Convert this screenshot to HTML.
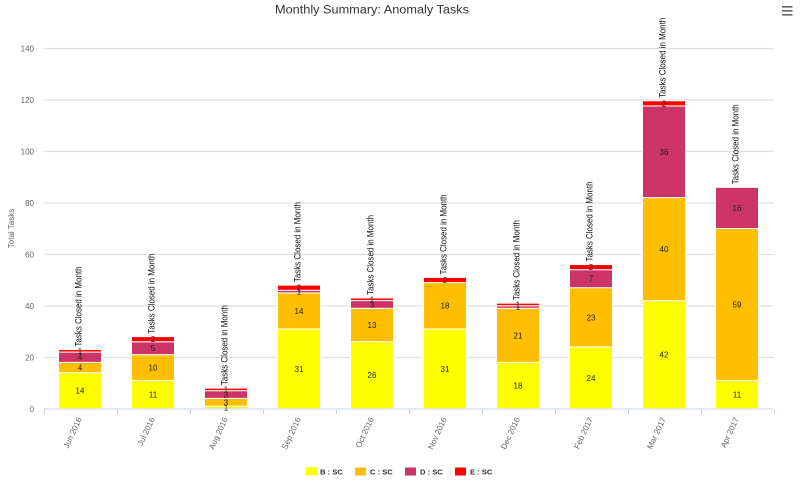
<!DOCTYPE html>
<html><head><meta charset="utf-8"><style>
html,body{margin:0;padding:0;background:#fff;}
svg{display:block;font-family:"Liberation Sans",Arial,sans-serif;}
</style></head><body>
<svg width="800" height="480" viewBox="0 0 800 480" xmlns="http://www.w3.org/2000/svg">
<rect width="800" height="480" fill="#fff"/>
<text x="275" y="13.5" font-size="11.5" fill="#333" textLength="194" lengthAdjust="spacingAndGlyphs">Monthly Summary: Anomaly Tasks</text>
<g fill="#666"><rect x="782" y="6" width="10.5" height="1.6"/><rect x="782" y="10" width="10.5" height="1.6"/><rect x="782" y="14" width="10.5" height="1.6"/></g>
<g stroke="#e0e0e0" stroke-width="1.2">
<line x1="44" x2="774" y1="48.5" y2="48.5"/><line x1="44" x2="774" y1="100" y2="100"/><line x1="44" x2="774" y1="151.5" y2="151.5"/><line x1="44" x2="774" y1="203" y2="203"/><line x1="44" x2="774" y1="254.5" y2="254.5"/><line x1="44" x2="774" y1="306" y2="306"/><line x1="44" x2="774" y1="357.5" y2="357.5"/>
</g>
<g font-size="8" fill="#666" text-anchor="end">
<text x="34" y="51.5">140</text><text x="34" y="103">120</text><text x="34" y="154.5">100</text><text x="34" y="206">80</text><text x="34" y="257.5">60</text><text x="34" y="309">40</text><text x="34" y="360.5">20</text><text x="34" y="412">0</text>
</g>
<text transform="translate(14,228.5) rotate(-90)" font-size="8" fill="#666" text-anchor="middle">Total Tasks</text>
<g stroke="#fff" stroke-width="1">
<!-- Jun -->
<rect x="58.5" y="372.66" width="43" height="36.04" fill="#ffff00"/>
<rect x="58.5" y="362.36" width="43" height="10.3" fill="#ffbf00"/>
<rect x="58.5" y="352.07" width="43" height="10.29" fill="#cc3366"/>
<rect x="58.5" y="349.49" width="43" height="2.58" fill="#ff0000"/>
<!-- Jul -->
<rect x="131.5" y="380.38" width="43" height="28.32" fill="#ffff00"/>
<rect x="131.5" y="354.64" width="43" height="25.74" fill="#ffbf00"/>
<rect x="131.5" y="341.77" width="43" height="12.87" fill="#cc3366"/>
<rect x="131.5" y="336.62" width="43" height="5.15" fill="#ff0000"/>
<!-- Aug -->
<rect x="204.5" y="406.13" width="43" height="2.57" fill="#ffff00"/>
<rect x="204.5" y="398.40" width="43" height="7.73" fill="#ffbf00"/>
<rect x="204.5" y="390.68" width="43" height="7.72" fill="#cc3366"/>
<rect x="204.5" y="388.11" width="43" height="2.57" fill="#ff0000"/>
<!-- Sep -->
<rect x="277.5" y="328.90" width="43" height="79.8" fill="#ffff00"/>
<rect x="277.5" y="292.86" width="43" height="36.04" fill="#ffbf00"/>
<rect x="277.5" y="290.28" width="43" height="2.58" fill="#cc3366"/>
<rect x="277.5" y="285.13" width="43" height="5.15" fill="#ff0000"/>
<!-- Oct -->
<rect x="350.5" y="341.77" width="43" height="66.93" fill="#ffff00"/>
<rect x="350.5" y="308.30" width="43" height="33.47" fill="#ffbf00"/>
<rect x="350.5" y="300.58" width="43" height="7.72" fill="#cc3366"/>
<rect x="350.5" y="298.00" width="43" height="2.58" fill="#ff0000"/>
<!-- Nov -->
<rect x="423.5" y="328.90" width="43" height="79.8" fill="#ffff00"/>
<rect x="423.5" y="282.56" width="43" height="46.34" fill="#ffbf00"/>
<rect x="423.5" y="277.41" width="43" height="5.15" fill="#ff0000"/>
<!-- Dec -->
<rect x="496.5" y="362.36" width="43" height="46.34" fill="#ffff00"/>
<rect x="496.5" y="308.30" width="43" height="54.06" fill="#ffbf00"/>
<rect x="496.5" y="305.73" width="43" height="2.57" fill="#cc3366"/>
<rect x="496.5" y="303.15" width="43" height="2.58" fill="#ff0000"/>
<!-- Feb -->
<rect x="569.5" y="346.92" width="43" height="61.78" fill="#ffff00"/>
<rect x="569.5" y="287.71" width="43" height="59.21" fill="#ffbf00"/>
<rect x="569.5" y="269.69" width="43" height="18.02" fill="#cc3366"/>
<rect x="569.5" y="264.54" width="43" height="5.15" fill="#ff0000"/>
<!-- Mar -->
<rect x="642.5" y="300.58" width="43" height="108.12" fill="#ffff00"/>
<rect x="642.5" y="197.61" width="43" height="102.97" fill="#ffbf00"/>
<rect x="642.5" y="105.93" width="43" height="91.68" fill="#cc3366"/>
<rect x="642.5" y="100.78" width="43" height="5.15" fill="#ff0000"/>
<!-- Apr -->
<rect x="715.5" y="380.38" width="43" height="28.32" fill="#ffff00"/>
<rect x="715.5" y="228.50" width="43" height="151.88" fill="#ffbf00"/>
<rect x="715.5" y="187.31" width="43" height="41.19" fill="#cc3366"/>
</g>
<line x1="44" x2="774" y1="409" y2="409" stroke="#ccd6eb" stroke-width="1"/>
<g stroke="#ccd6eb" stroke-width="1">
<line x1="44.5" x2="44.5" y1="409" y2="414"/><line x1="117.5" x2="117.5" y1="409" y2="414"/><line x1="190.5" x2="190.5" y1="409" y2="414"/><line x1="263.5" x2="263.5" y1="409" y2="414"/><line x1="336.5" x2="336.5" y1="409" y2="414"/><line x1="409.5" x2="409.5" y1="409" y2="414"/><line x1="482.5" x2="482.5" y1="409" y2="414"/><line x1="555.5" x2="555.5" y1="409" y2="414"/><line x1="628.5" x2="628.5" y1="409" y2="414"/><line x1="701.5" x2="701.5" y1="409" y2="414"/><line x1="774.5" x2="774.5" y1="409" y2="414"/>
</g>
<g font-size="8" fill="#222" text-anchor="middle">
<text x="80" y="393.7">14</text><text x="80" y="370.5">4</text><text x="80" y="360.2">4</text><text x="80" y="353.8">1</text>
<text x="153" y="397.5">11</text><text x="153" y="370.5">10</text><text x="153" y="351.2">5</text><text x="153" y="342.2">2</text>
<text x="226" y="410.4">1</text><text x="226" y="405.3">3</text><text x="226" y="397.5">3</text><text x="226" y="392.4">1</text>
<text x="299" y="371.8">31</text><text x="299" y="313.9">14</text><text x="299" y="294.6">1</text><text x="299" y="290.7">2</text>
<text x="372" y="378.2">26</text><text x="372" y="328">13</text><text x="372" y="307.4">3</text><text x="372" y="302.3">1</text>
<text x="445" y="371.8">31</text><text x="445" y="308.7">18</text><text x="445" y="283">2</text>
<text x="518" y="388.5">18</text><text x="518" y="338.3">21</text><text x="518" y="310">1</text><text x="518" y="307.4">1</text>
<text x="591" y="380.8">24</text><text x="591" y="320.3">23</text><text x="591" y="281.7">7</text><text x="591" y="270.1">2</text>
<text x="664" y="357.6">42</text><text x="664" y="252.1">40</text><text x="664" y="154.8">36</text><text x="664" y="106.4">2</text>
<text x="737" y="397.5">11</text><text x="737" y="307.4">59</text><text x="737" y="210.9">16</text>
</g>
<g font-size="9" fill="#111">
<text transform="translate(81.5,346.5) rotate(-90)" textLength="80" lengthAdjust="spacingAndGlyphs">Tasks Closed in Month</text>
<text transform="translate(154.5,333.6) rotate(-90)" textLength="80" lengthAdjust="spacingAndGlyphs">Tasks Closed in Month</text>
<text transform="translate(227.5,385.1) rotate(-90)" textLength="80" lengthAdjust="spacingAndGlyphs">Tasks Closed in Month</text>
<text transform="translate(300.5,282.1) rotate(-90)" textLength="80" lengthAdjust="spacingAndGlyphs">Tasks Closed in Month</text>
<text transform="translate(373.5,295) rotate(-90)" textLength="80" lengthAdjust="spacingAndGlyphs">Tasks Closed in Month</text>
<text transform="translate(446.5,274.4) rotate(-90)" textLength="80" lengthAdjust="spacingAndGlyphs">Tasks Closed in Month</text>
<text transform="translate(519.5,300.1) rotate(-90)" textLength="80" lengthAdjust="spacingAndGlyphs">Tasks Closed in Month</text>
<text transform="translate(592.5,261.5) rotate(-90)" textLength="80" lengthAdjust="spacingAndGlyphs">Tasks Closed in Month</text>
<text transform="translate(665.5,97.8) rotate(-90)" textLength="80" lengthAdjust="spacingAndGlyphs">Tasks Closed in Month</text>
<text transform="translate(738.5,184.3) rotate(-90)" textLength="80" lengthAdjust="spacingAndGlyphs">Tasks Closed in Month</text>
</g>
<g font-size="8" fill="#666" text-anchor="end">
<text transform="translate(82,419) rotate(-65)">Jun 2016</text>
<text transform="translate(155,419) rotate(-65)">Jul 2016</text>
<text transform="translate(228,419) rotate(-65)">Aug 2016</text>
<text transform="translate(301,419) rotate(-65)">Sep 2016</text>
<text transform="translate(374,419) rotate(-65)">Oct 2016</text>
<text transform="translate(447,419) rotate(-65)">Nov 2016</text>
<text transform="translate(520,419) rotate(-65)">Dec 2016</text>
<text transform="translate(593,419) rotate(-65)">Feb 2017</text>
<text transform="translate(666,419) rotate(-65)">Mar 2017</text>
<text transform="translate(739,419) rotate(-65)">Apr 2017</text>
</g>
<rect x="306" y="467.5" width="11" height="8" fill="#ffff00"/>
<rect x="355" y="467.5" width="11" height="8" fill="#ffbf00"/>
<rect x="405" y="467.5" width="11" height="8" fill="#cc3366"/>
<rect x="455" y="467.5" width="11" height="8" fill="#ff0000"/>
<g font-size="7.6" font-weight="bold" fill="#333">
<text x="320" y="474.5">B : SC</text>
<text x="370" y="474.5">C : SC</text>
<text x="420" y="474.5">D : SC</text>
<text x="470" y="474.5">E : SC</text>
</g>
</svg>
</body></html>
